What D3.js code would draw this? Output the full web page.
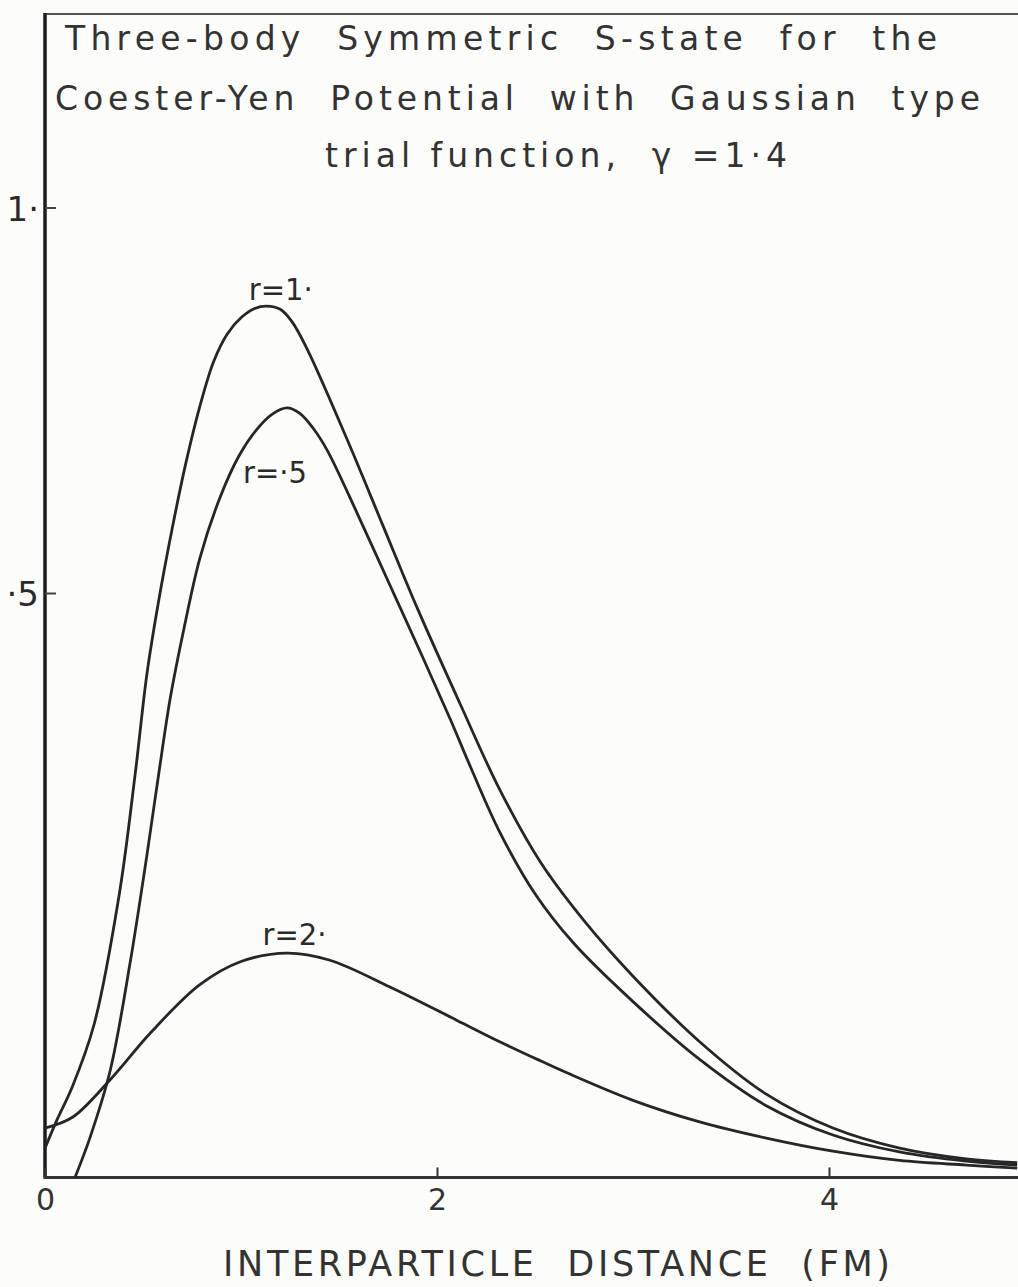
<!DOCTYPE html>
<html>
<head>
<meta charset="utf-8">
<script src="https://cdn.jsdelivr.net/npm/d3@7"></script>
<style>
  html, body { margin: 0; padding: 0; background: #fcfcfa; }
  svg { display: block; font-family: "DejaVu Sans", sans-serif; }
  text { white-space: pre; }
</style>
</head>
<body>
<svg class="chart" width="1018" height="1287"></svg>
<script>
// values (y in units of the printed axis ticks)
const titleLines = [
  "Three-body  Symmetric  S-state  for  the",
  "Coester-Yen  Potential  with  Gaussian  type",
  "trial function,  γ =1·4"
];
const xTicks = [0, 2, 4];
const yTicks = [0.5, 1];
const yTickLabels = ["·5", "1·"];
const xTitle = "INTERPARTICLE  DISTANCE  (FM)";
const yFloor = -0.258;   // value where the distance axis is drawn

const xR1 = [0, 0.06, 0.14, 0.25, 0.38, 0.46, 0.52, 0.58, 0.65, 0.72, 0.79, 0.86, 0.93, 1.00, 1.07, 1.13, 1.20, 1.26, 1.34, 1.54, 1.72, 1.90, 2.12, 2.32, 2.53, 2.75, 3.00, 3.34, 3.68, 4.02, 4.36, 4.70, 4.96];
const yR1 = [-0.220, -0.184, -0.140, -0.060, 0.111, 0.265, 0.395, 0.490, 0.585, 0.670, 0.742, 0.800, 0.836, 0.857, 0.869, 0.872, 0.868, 0.852, 0.815, 0.700, 0.590, 0.480, 0.355, 0.245, 0.150, 0.075, 0.003, -0.082, -0.150, -0.194, -0.220, -0.234, -0.239];

const xR05 = [0.153, 0.23, 0.332, 0.434, 0.52, 0.58, 0.64, 0.71, 0.79, 0.89, 0.99, 1.08, 1.16, 1.235, 1.30, 1.37, 1.44, 1.59, 1.76, 1.93, 2.07, 2.17, 2.32, 2.50, 2.70, 3.00, 3.34, 3.68, 4.02, 4.36, 4.70, 4.96];
const yR05 = [-0.258, -0.206, -0.120, 0.020, 0.160, 0.265, 0.365, 0.455, 0.545, 0.622, 0.678, 0.712, 0.732, 0.740, 0.733, 0.713, 0.685, 0.605, 0.510, 0.415, 0.335, 0.275, 0.190, 0.110, 0.045, -0.030, -0.105, -0.165, -0.203, -0.225, -0.237, -0.242];

const xR2 = [0, 0.14, 0.33, 0.54, 0.79, 1.00, 1.235, 1.45, 1.76, 2.10, 2.32, 2.53, 2.66, 3.00, 3.34, 3.68, 4.02, 4.36, 4.70, 4.96];
const yR2 = [-0.194, -0.180, -0.132, -0.070, -0.008, 0.022, 0.033, 0.024, -0.011, -0.054, -0.082, -0.107, -0.122, -0.158, -0.186, -0.207, -0.224, -0.236, -0.242, -0.246];

const curveNames = ["r=1·", "r=·5", "r=2·"];
const labelAt = [[1.04, 0.880], [1.01, 0.643], [1.11, 0.044]];

function drawFigure() {
  const svg = d3.select('svg.chart');
  const ink = '#262626';

  const x = d3.scaleLinear().domain([0, 5]).range([45, 1025]);
  const y = d3.scaleLinear().domain([0, 1]).range([978.5, 207.5]);

  const series = [
    xR1.map((v, i) => [v, yR1[i]]),
    xR05.map((v, i) => [v, yR05[i]]),
    xR2.map((v, i) => [v, yR2[i]])
  ];

  // title block
  const titleX = [65, 55, 325];
  const titleW = [872, 925, 462];
  const titleY = [50, 110, 167];
  svg.selectAll('text.title')
    .data(titleLines)
    .enter()
    .append('text')
      .attr('class', 'title')
      .attr('x', (d, i) => titleX[i])
      .attr('y', (d, i) => titleY[i])
      .attr('textLength', (d, i) => titleW[i])
      .attr('lengthAdjust', 'spacing')
      .style('font-size', '33px')
      .style('fill', '#333')
      .text(d => d);

  // frame: top rule, left axis, bottom axis
  svg.append('path')
    .attr('d', `M${x(0)},14 L1018,14`)
    .attr('stroke', '#555')
    .attr('stroke-width', 2)
    .attr('fill', 'none');

  svg.append('path')
    .attr('d', `M${x(0)},13 L${x(0)},${y(yFloor)}`)
    .attr('stroke', '#1c1c1c')
    .attr('stroke-width', 3.5)
    .attr('fill', 'none');

  svg.append('path')
    .attr('d', `M${x(0) - 1.5},${y(yFloor)} L1018,${y(yFloor)}`)
    .attr('stroke', '#333')
    .attr('stroke-width', 3)
    .attr('fill', 'none');

  // axes (ticks point inward, like the hand-drawn figure)
  const xAxis = svg.append('g')
      .attr('class', 'axis x')
      .attr('transform', `translate(0,${y(yFloor)})`)
      .call(d3.axisBottom(x).tickValues(xTicks).tickSize(-10).tickPadding(11).tickFormat(d3.format('d')));
  xAxis.select('.domain').remove();
  xAxis.selectAll('line').attr('stroke', '#333').attr('stroke-width', 2);
  xAxis.selectAll('text')
      .style('font-family', '"DejaVu Sans", sans-serif')
      .style('font-size', '30px')
      .style('fill', '#333');

  const yAxis = svg.append('g')
      .attr('class', 'axis y')
      .attr('transform', `translate(${x(0)},0)`)
      .call(d3.axisLeft(y).tickValues(yTicks).tickSize(-11).tickPadding(6)
        .tickFormat((d, i) => yTickLabels[i]));
  yAxis.select('.domain').remove();
  yAxis.selectAll('line').attr('stroke', '#444').attr('stroke-width', 2);
  yAxis.selectAll('text')
      .attr('dy', '0.38em')
      .style('font-family', '"DejaVu Sans", sans-serif')
      .style('font-size', '34px')
      .style('fill', '#2a2a2a');

  // axis title
  svg.append('text')
    .attr('x', 223)
    .attr('y', 1276)
    .attr('textLength', 667)
    .attr('lengthAdjust', 'spacing')
    .style('font-size', '35px')
    .style('fill', '#333')
    .text(xTitle);

  // curves
  const line = d3.line()
    .x(d => x(d[0]))
    .y(d => y(d[1]))
    .curve(d3.curveCatmullRom.alpha(0.5));

  svg.selectAll('path.curve')
    .data(series)
    .enter()
    .append('path')
      .attr('class', 'curve')
      .attr('d', line)
      .attr('fill', 'none')
      .attr('stroke', ink)
      .attr('stroke-width', 2.8)
      .attr('stroke-linejoin', 'round');

  // curve labels
  svg.selectAll('text.curveLab')
    .data(curveNames)
    .enter()
    .append('text')
      .attr('class', 'curveLab')
      .attr('x', (d, i) => x(labelAt[i][0]))
      .attr('y', (d, i) => y(labelAt[i][1]))
      .attr('textLength', 64)
      .attr('lengthAdjust', 'spacingAndGlyphs')
      .style('font-size', '30px')
      .style('fill', '#2a2a2a')
      .text(d => d);
}

drawFigure();
</script>
</body>
</html>
